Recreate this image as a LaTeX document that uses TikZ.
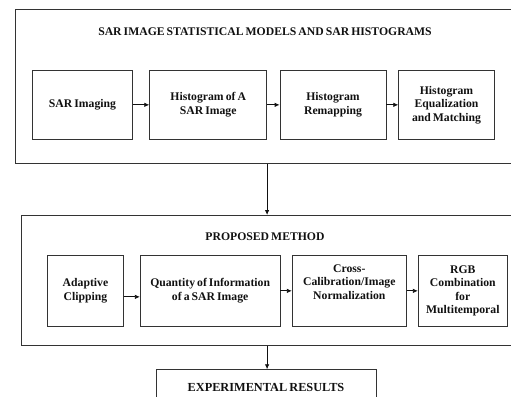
\documentclass[tikz,border=0pt]{standalone}
\usepackage{fontspec}
\setmainfont[WordSpace=0.7]{Liberation Serif}
\usetikzlibrary{arrows.meta,calc}
\definecolor{ink}{HTML}{111111}
\definecolor{frame}{HTML}{333333}
\newcommand{\boxfont}{\fontsize{11.7}{13.6}\selectfont\bfseries}
\newcommand{\headfont}{\fontsize{11.7}{13.6}\selectfont\bfseries}

\begin{document}
\begin{tikzpicture}[x=1pt,y=-1pt,
  stage/.style={draw=frame,line width=0.8pt,inner sep=0pt,minimum height=#1},
  stage/.default=68,
  step box/.style={draw=frame,line width=0.8pt,align=center,inner sep=2pt,
    font=\boxfont,text=ink},
  head/.style={inner sep=0pt,font=\headfont,text=ink},
  arr/.style={ink,line width=0.8pt,-{Latex[length=5pt,width=4.5pt]}}]
\useasboundingbox (0,0) rectangle (511,396);
\clip (0,0) rectangle (511,396);
% first stage
\node[stage=153.7,minimum width=497,anchor=north west] (sar) at (15,9.3) {};
\node[head] (sarhead) at (265,31.7) {SAR IMAGE STATISTICAL MODELS AND SAR HISTOGRAMS};
\node[step box,minimum width=100.4,minimum height=68.3] (imaging) at (82.5,104.85) {SAR Imaging};
\node[step box,minimum width=117,minimum height=68.3] (hist) at (208.2,104.85) {Histogram of A\\SAR Image};
\node[step box,minimum width=106,minimum height=68.3] (remap) at (333,104.85) {Histogram\\Remapping};
\node[step box,minimum width=95.6,minimum height=68.3] (equal) at (446.5,104.85) {Histogram\\Equalization\\and Matching};
\draw[arr] (imaging) -- (hist);
\draw[arr] (hist) -- (remap);
\draw[arr] (remap) -- (equal);
% second stage
\node[stage=130,minimum width=491.3,anchor=north west] (prop) at (20.7,215) {};
\node[head] (prophead) at (265,236.7) {PROPOSED METHOD};
\node[step box,minimum width=75.6,minimum height=70.3] (clip) at (85.5,290.85) {Adaptive\\Clipping};
\node[step box,minimum width=139.7,minimum height=70.3] (quant) at (210.15,290.85) {Quantity of Information\\of a SAR Image};
\node[step box,minimum width=114,minimum height=70.3] (cross) at (349.3,290.85) {Cross-\\Calibration/Image\\Normalization\\[4pt]};
\node[step box,minimum width=89,minimum height=70.3] (rgb) at (462.8,290.85) {RGB\\Combination\\for\\Multitemporal};
\draw[arr] ([yshift=-6pt]clip.east) -- ([yshift=-6pt]quant.west);
\draw[arr] (quant) -- (cross);
\draw[arr] (cross) -- (rgb);
% results
\node[stage=40,minimum width=219.7,anchor=north west] (res) at (156,369.3) {};
\node[head,anchor=base,font=\fontsize{12.3}{14}\selectfont\bfseries] (reshead) at (266,391) {EXPERIMENTAL RESULTS};
% links between stages
\draw[arr] (sar.south -| hist.east) -- (prop.north -| hist.east);
\draw[arr] (prop.south -| hist.east) -- (res.north -| hist.east);
\end{tikzpicture}
\end{document}
